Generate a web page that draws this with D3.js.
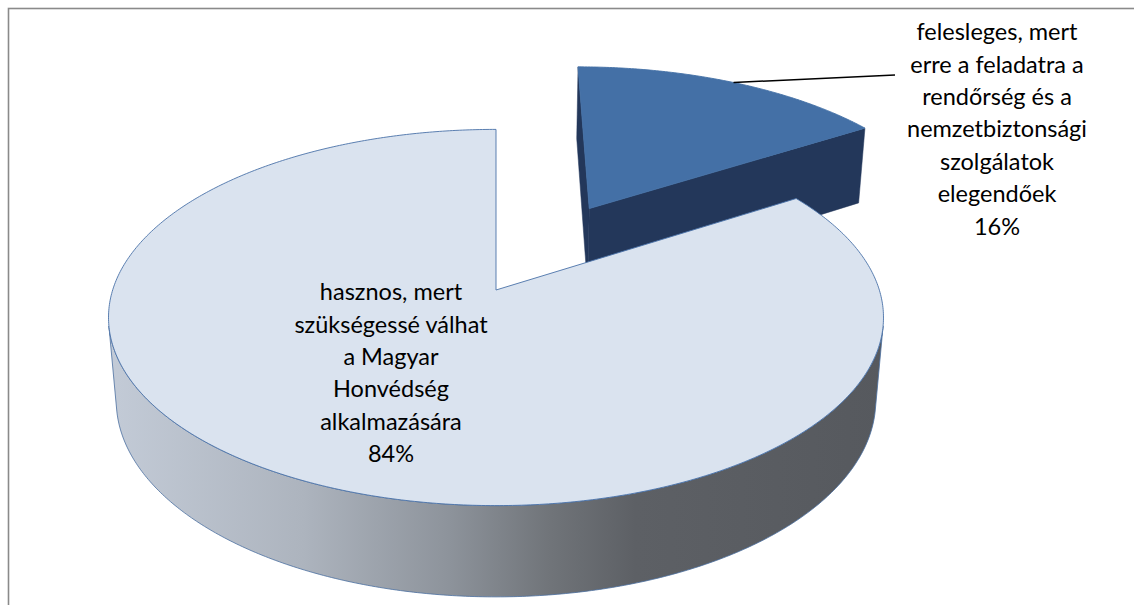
<!DOCTYPE html>
<html>
<head>
<meta charset="utf-8">
<script src="https://cdn.jsdelivr.net/npm/d3@7"></script>
<style>
  body { margin: 0; background: #fff; }
  svg text { font-family: Lato, "Open Sans", sans-serif; fill: #000; }
</style>
</head>
<body>
<div id="chart"></div>
<script>
// slice data (Excel 3D pie, first slice starts at 12 o'clock, clockwise)
var categories = ["felesleges", "hasznos"];
var values = [16, 84];
var labelLines = [
    ["felesleges, mert", "erre a feladatra a", "rendőrség és a", "nemzetbiztonsági", "szolgálatok", "elegendőek"],
    ["hasznos, mert", "szükségessé válhat", "a Magyar", "Honvédség", "alkalmazására"]
];
var explode = [0.54, 0];

var width = 1134, height = 605;
var topColors = ["#4470a6", "#dae3ef"];
var faceColors = ["#23375a", "#9aa1aa"];
var labelPos = [[997, 32], [391, 292]];
var lineStep = 32.4;

// simple perspective camera looking down at the pie
var cx = 496, cy = 290, f = 2300, D = 6, depth = 0.25;
var tilt = 28.7 * Math.PI / 180, sn = Math.sin(tilt), cs = Math.cos(tilt);
var cam = [0, -D * cs, D * sn];

function project(X, Y, Z) {
    var v = Y * sn + Z * cs, w = D + Y * cs - Z * sn;
    return [cx + f * X / w, cy - f * v / w];
}
// point of a slice: angle a, radius r, height z, slice offset o
function pt(a, r, z, o) {
    return project(o[0] + r * Math.sin(a), o[1] + r * Math.cos(a), z);
}
function arcPts(a0, a1, z, o) {
    var n = Math.max(2, Math.ceil(Math.abs(a1 - a0) / 0.01));
    return d3.range(n + 1).map(function (i) { return pt(a0 + (a1 - a0) * i / n, 1, z, o); });
}

var svg = d3.select("#chart").append("svg")
    .attr("width", width)
    .attr("height", height);

// chart frame (right and bottom edges fall outside the picture)
svg.append("rect")
    .attr("x", 8.5).attr("y", 8.5)
    .attr("width", width + 20).attr("height", height + 20)
    .attr("fill", "none")
    .attr("stroke", "#8a8a8a")
    .attr("stroke-width", 1.6);

var pie = d3.pie().sort(null).value(function (d) { return d; });
var arcs = pie(values);
var total = d3.sum(values);
var line = d3.line();

// side gradient across the pie width
var xs = d3.range(0, 2 * Math.PI, 0.01).map(function (a) { return pt(a, 1, 0, [0, 0])[0]; });
var grad = svg.append("defs").append("linearGradient")
    .attr("id", "sideGrad")
    .attr("gradientUnits", "userSpaceOnUse")
    .attr("x1", d3.min(xs)).attr("x2", d3.max(xs))
    .attr("y1", 0).attr("y2", 0);
[[0, "#c3cbd7"], [0.25, "#adb4be"], [0.44, "#8d939b"], [0.57, "#707479"], [0.68, "#5d6065"], [1, "#56595e"]]
    .forEach(function (s) { grad.append("stop").attr("offset", s[0]).attr("stop-color", s[1]); });

arcs.forEach(function (d, i) {
    var mid = (d.startAngle + d.endAngle) / 2;
    d.off = [explode[i] * Math.sin(mid), explode[i] * Math.cos(mid)];
    d.i = i;
});

// far slices first
var order = arcs.slice().sort(function (a, b) { return b.off[1] - a.off[1]; });

var lim = Math.acos(-1 / (D * cs)); // silhouette angle of the rim

order.forEach(function (d) {
    var g = svg.append("g");
    var o = d.off, apexT = pt(0, 0, 0, o), apexB = pt(0, 0, -depth, o);

    // outer rim, visible part only
    var a0 = Math.max(d.startAngle, lim), a1 = Math.min(d.endAngle, 2 * Math.PI - lim);
    if (a1 > a0) {
        var pts = arcPts(a0, a1, 0, o).concat(arcPts(a1, a0, -depth, o));
        g.append("path")
            .attr("d", line(pts) + "Z")
            .attr("fill", d.i === 1 ? "url(#sideGrad)" : faceColors[d.i])
            .attr("stroke", "#4a6f9f")
            .attr("stroke-width", 0.8);
    }

    // radial cut faces
    [[d.startAngle, -1], [d.endAngle, 1]].forEach(function (e) {
        var a = e[0], n = [e[1] * Math.cos(a), -e[1] * Math.sin(a)];
        var dot = (cam[0] - o[0]) * n[0] + (cam[1] - o[1]) * n[1];
        if (dot <= 1e-6) return;
        g.append("path")
            .attr("d", line([apexT, pt(a, 1, 0, o), pt(a, 1, -depth, o), apexB]) + "Z")
            .attr("fill", faceColors[d.i])
            .attr("stroke", faceColors[d.i])
            .attr("stroke-width", 0.5);
    });

    // top face
    g.append("path")
        .attr("d", line([apexT].concat(arcPts(d.startAngle, d.endAngle, 0, o))) + "Z")
        .attr("fill", topColors[d.i])
        .attr("stroke", d.i === 1 ? "#4a72a8" : topColors[d.i])
        .attr("stroke-width", 0.9);
});

// leader line for the exploded slice
var small = arcs[0];
var anchor = pt((small.startAngle + small.endAngle) / 2, 1, 0, small.off);
svg.append("path")
    .attr("d", line([anchor, [labelPos[0][0] - 102, labelPos[0][1] + 43]]))
    .attr("fill", "none")
    .attr("stroke", "#000")
    .attr("stroke-width", 1.5);

// data labels
arcs.forEach(function (d, i) {
    var lines = labelLines[i].concat([d3.format(".0%")(d.value / total)]);
    var t = svg.append("text")
        .attr("text-anchor", "middle")
        .attr("font-size", 23.5);
    lines.forEach(function (s, k) {
        t.append("tspan")
            .attr("x", labelPos[i][0])
            .attr("y", labelPos[i][1] + k * lineStep)
            .attr("dy", "0.35em")
            .text(s);
    });
});
</script>
</body>
</html>
